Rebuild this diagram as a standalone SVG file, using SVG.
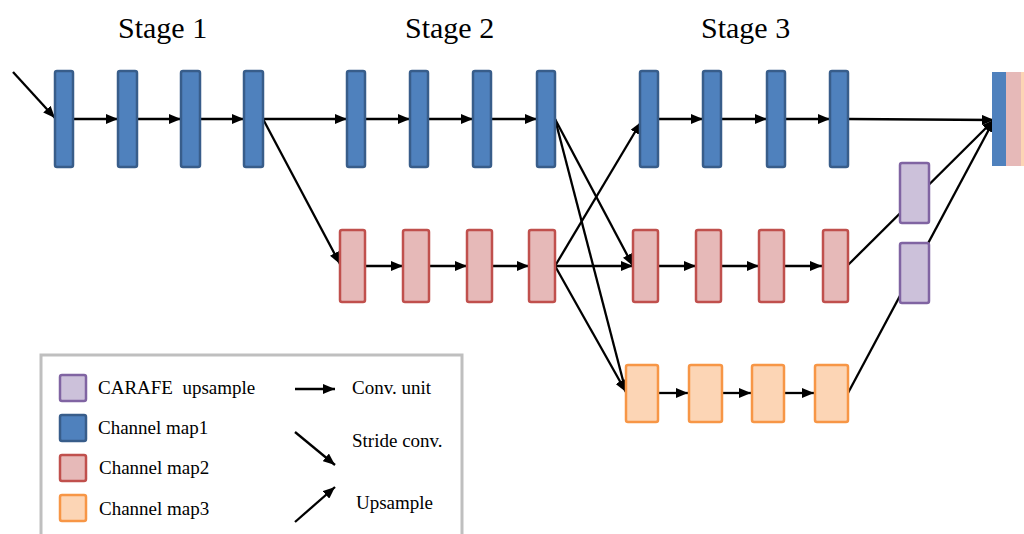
<svg xmlns="http://www.w3.org/2000/svg" width="1024" height="534" viewBox="0 0 1024 534">
  <defs>
    <marker id="arrow" viewBox="0 0 12 10" refX="12" refY="5" markerWidth="12" markerHeight="10" markerUnits="userSpaceOnUse" orient="auto">
      <path d="M0,0 L12,5 L0,10 Z" fill="#000"/>
    </marker>
    <style>
      .title { font-family: "Liberation Serif", "Times New Roman", serif; font-size: 30px; fill: #000; }
      .lg { font-family: "Liberation Serif", "Times New Roman", serif; font-size: 19px; fill: #000; }
      .c1 { fill: #4f81bd; stroke: #385d8a; stroke-width: 2.5; }
      .c2 { fill: #e6b9b8; stroke: #c0504d; stroke-width: 2.5; }
      .c3 { fill: #fcd5b5; stroke: #f79646; stroke-width: 2.5; }
      .up { fill: #ccc1da; stroke: #8064a2; stroke-width: 2.5; }
      .ar { stroke: #000; stroke-width: 2.3; fill: none; marker-end: url(#arrow); }
    </style>
  </defs>
  <rect width="1024" height="534" fill="#fff"/>

  <!-- stage headings -->
  <text class="title" x="118" y="38">Stage 1</text>
  <text class="title" x="405" y="38">Stage 2</text>
  <text class="title" x="701" y="38">Stage 3</text>

  <!-- connectors -->
  <g id="connectors">
    <line class="ar" x1="13" y1="72" x2="55" y2="118"/>
    <!-- branch 1 -->
    <line class="ar" x1="73" y1="119" x2="118" y2="119"/>
    <line class="ar" x1="137" y1="119" x2="181" y2="119"/>
    <line class="ar" x1="200" y1="119" x2="244" y2="119"/>
    <line class="ar" x1="263" y1="119" x2="347" y2="119"/>
    <line class="ar" x1="365" y1="119" x2="410" y2="119"/>
    <line class="ar" x1="428" y1="119" x2="473" y2="119"/>
    <line class="ar" x1="491" y1="119" x2="537" y2="119"/>
    <line class="ar" x1="658" y1="119" x2="703" y2="119"/>
    <line class="ar" x1="721" y1="119" x2="767" y2="119"/>
    <line class="ar" x1="785" y1="119" x2="830" y2="119"/>
    <line class="ar" x1="848" y1="119" x2="994" y2="120"/>
    <!-- stride convs -->
    <line class="ar" x1="263" y1="119" x2="340" y2="264"/>
    <line class="ar" x1="555" y1="119" x2="633" y2="266"/>
    <line class="ar" x1="555" y1="119" x2="626" y2="392"/>
    <line class="ar" x1="555" y1="266" x2="626" y2="392"/>
    <!-- upsample -->
    <line class="ar" x1="555" y1="266" x2="641" y2="122"/>
    <!-- branch 2 -->
    <line class="ar" x1="365" y1="266" x2="403" y2="266"/>
    <line class="ar" x1="429" y1="266" x2="467" y2="266"/>
    <line class="ar" x1="492" y1="266" x2="529" y2="266"/>
    <line class="ar" x1="555" y1="266" x2="633" y2="266"/>
    <line class="ar" x1="658" y1="266" x2="696" y2="266"/>
    <line class="ar" x1="721" y1="266" x2="759" y2="266"/>
    <line class="ar" x1="784" y1="266" x2="822" y2="266"/>
    <!-- branch 3 -->
    <line class="ar" x1="658" y1="393" x2="688" y2="393"/>
    <line class="ar" x1="722" y1="393" x2="751" y2="393"/>
    <line class="ar" x1="784" y1="393" x2="814" y2="393"/>
    <!-- fusion through CARAFE -->
    <line class="ar" x1="848" y1="265" x2="994" y2="120"/>
    <line class="ar" x1="848" y1="393" x2="994" y2="120"/>
  </g>

  <!-- branch 1 blocks -->
  <g id="b1-1"><rect class="c1" x="55" y="71" width="18" height="96" rx="2"/></g>
  <g id="b1-2"><rect class="c1" x="118" y="71" width="19" height="96" rx="2"/></g>
  <g id="b1-3"><rect class="c1" x="181" y="71" width="19" height="96" rx="2"/></g>
  <g id="b1-4"><rect class="c1" x="244" y="71" width="19" height="96" rx="2"/></g>
  <g id="b1-5"><rect class="c1" x="347" y="71" width="18" height="96" rx="2"/></g>
  <g id="b1-6"><rect class="c1" x="410" y="71" width="18" height="96" rx="2"/></g>
  <g id="b1-7"><rect class="c1" x="473" y="71" width="18" height="96" rx="2"/></g>
  <g id="b1-8"><rect class="c1" x="537" y="71" width="18" height="96" rx="2"/></g>
  <g id="b1-9"><rect class="c1" x="640" y="71" width="18" height="96" rx="2"/></g>
  <g id="b1-10"><rect class="c1" x="703" y="71" width="18" height="96" rx="2"/></g>
  <g id="b1-11"><rect class="c1" x="767" y="71" width="18" height="96" rx="2"/></g>
  <g id="b1-12"><rect class="c1" x="830" y="71" width="18" height="96" rx="2"/></g>

  <!-- branch 2 blocks -->
  <g id="b2-1"><rect class="c2" x="340" y="230" width="25" height="72" rx="2"/></g>
  <g id="b2-2"><rect class="c2" x="403" y="230" width="26" height="72" rx="2"/></g>
  <g id="b2-3"><rect class="c2" x="467" y="230" width="25" height="72" rx="2"/></g>
  <g id="b2-4"><rect class="c2" x="529" y="230" width="26" height="72" rx="2"/></g>
  <g id="b2-5"><rect class="c2" x="633" y="230" width="25" height="72" rx="2"/></g>
  <g id="b2-6"><rect class="c2" x="696" y="230" width="25" height="72" rx="2"/></g>
  <g id="b2-7"><rect class="c2" x="759" y="230" width="25" height="72" rx="2"/></g>
  <g id="b2-8"><rect class="c2" x="823" y="230" width="25" height="72" rx="2"/></g>

  <!-- branch 3 blocks -->
  <g id="b3-1"><rect class="c3" x="626" y="365" width="32" height="57" rx="2"/></g>
  <g id="b3-2"><rect class="c3" x="689" y="365" width="33" height="57" rx="2"/></g>
  <g id="b3-3"><rect class="c3" x="752" y="365" width="32" height="57" rx="2"/></g>
  <g id="b3-4"><rect class="c3" x="815" y="365" width="33" height="57" rx="2"/></g>

  <!-- CARAFE upsample blocks -->
  <g id="carafe-1"><rect class="up" x="900" y="163" width="29" height="60" rx="2"/></g>
  <g id="carafe-2"><rect class="up" x="900" y="243" width="29" height="60" rx="2"/></g>

  <!-- concatenated output -->
  <g id="output">
    <rect x="992" y="72" width="14" height="94" fill="#4f81bd"/>
    <rect x="1006" y="72" width="15" height="94" fill="#e6b9b8"/>
    <rect x="1021" y="72" width="3" height="94" fill="#fcd5b5"/>
  </g>

  <!-- legend -->
  <g id="legend">
    <rect x="41" y="355" width="421" height="190" fill="#fff" stroke="#bfbfbf" stroke-width="3"/>
    <rect class="up" x="60" y="375" width="26" height="26" rx="2"/>
    <rect class="c1" x="60" y="415" width="26" height="26" rx="2"/>
    <rect class="c2" x="60" y="455" width="26" height="26" rx="2"/>
    <rect class="c3" x="60" y="495" width="26" height="26" rx="2"/>
    <text class="lg" x="98" y="394" xml:space="preserve">CARAFE  upsample</text>
    <text class="lg" x="98" y="434">Channel map1</text>
    <text class="lg" x="99" y="474">Channel map2</text>
    <text class="lg" x="99" y="515">Channel map3</text>
    <line class="ar" x1="295" y1="389" x2="335" y2="389"/>
    <line class="ar" x1="295" y1="432" x2="335" y2="465"/>
    <line class="ar" x1="295" y1="522" x2="335" y2="487"/>
    <text class="lg" x="352" y="394">Conv. unit</text>
    <text class="lg" x="352" y="447">Stride conv.</text>
    <text class="lg" x="356" y="509">Upsample</text>
  </g>
</svg>
